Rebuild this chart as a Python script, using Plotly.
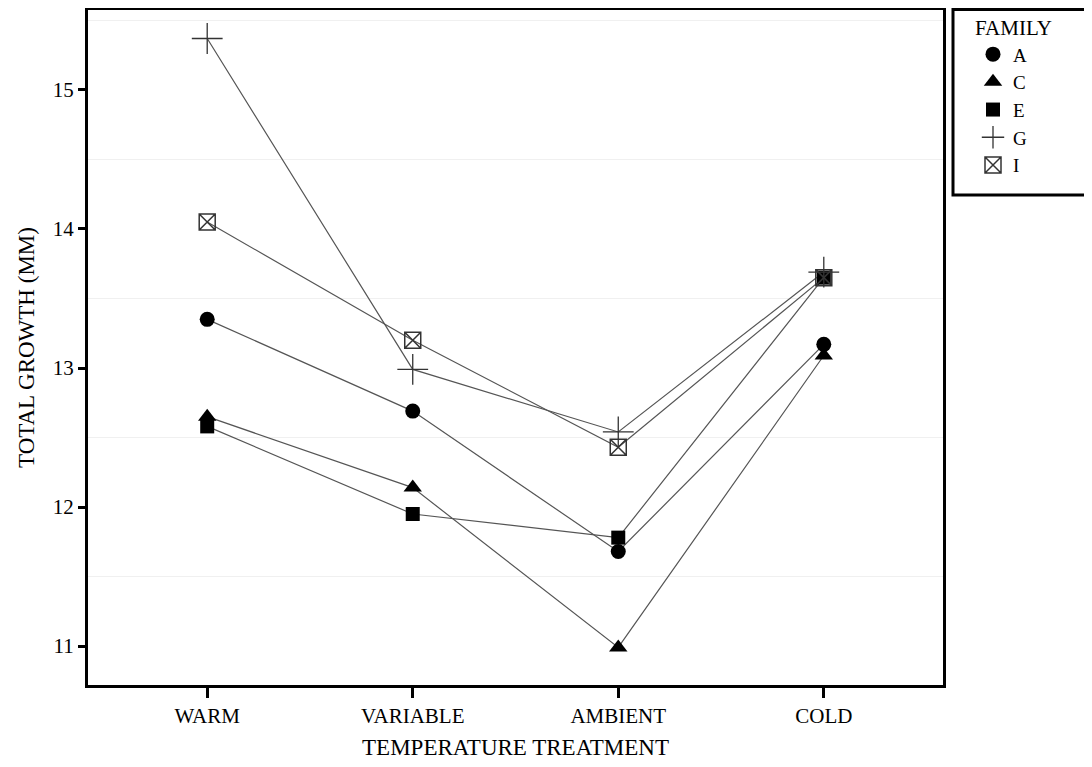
import plotly.graph_objects as go

treatments = ["WARM", "VARIABLE", "AMBIENT", "COLD"]
families = ["A", "C", "E", "G", "I"]
growth_A = [13.35, 12.69, 11.68, 13.17]
growth_C = [12.65, 12.14, 10.99, 13.09]
growth_E = [12.58, 11.95, 11.78, 13.65]
growth_G = [15.37, 12.99, 12.54, 13.69]
growth_I = [14.05, 13.20, 12.43, 13.65]

series = {"A": growth_A, "C": growth_C, "E": growth_E, "G": growth_G, "I": growth_I}
symbols = {"A": "circle", "C": "triangle-up", "E": "square", "G": "cross-thin-open", "I": "square-x-open"}
sizes = {"A": 15, "C": 16, "E": 14, "G": 22, "I": 16}
mcolors = {"A": "black", "C": "black", "E": "black", "G": "#333333", "I": "#333333"}
mline = {"A": 0, "C": 0, "E": 0, "G": 1.3, "I": 1.5}

font = "Liberation Serif, Times New Roman, serif"
fig = go.Figure()

for f in families:
    fig.add_trace(go.Scatter(x=treatments, y=series[f], mode="lines",
                             line=dict(color="#555555", width=1.2),
                             showlegend=False, hoverinfo="skip"))
for f in families:
    fig.add_trace(go.Scatter(x=treatments, y=series[f], mode="markers", name=f,
                             marker=dict(symbol=symbols[f], size=sizes[f], color=mcolors[f],
                                         line=dict(color=mcolors[f], width=mline[f]))))

W, H = 1084, 759
L, R, T, B = 80, 149, 2, 82
pw, ph = W - L - R, H - T - B

fig.update_layout(
    width=W, height=H,
    margin=dict(l=L, r=R, t=T, b=B, autoexpand=False),
    paper_bgcolor="white", plot_bgcolor="white",
    font=dict(family=font, size=20, color="black"),
    showlegend=True,
    legend=dict(x=(965 - L) / pw, y=1 + (0 + T) / ph, xanchor="left", yanchor="top",
                title=dict(text="FAMILY", font=dict(size=21)),
                font=dict(size=19), bgcolor="rgba(0,0,0,0)",
                tracegroupgap=0, itemsizing="trace", itemwidth=30),
    xaxis=dict(range=[-0.58, 3.58], showline=True, linewidth=3, linecolor="black", mirror=True,
               ticks="outside", tickwidth=3, ticklen=10, tickcolor="black", showgrid=False,
               zeroline=False, tickfont=dict(size=21), automargin=False,
               title=dict(text="TEMPERATURE TREATMENT", font=dict(size=23), standoff=12)),
    yaxis=dict(range=[10.72, 15.575], showline=True, linewidth=3, linecolor="black", mirror=True,
               ticks="outside", tickwidth=3, ticklen=7, tickcolor="black", showgrid=False,
               zeroline=False, tick0=11, dtick=1, tickfont=dict(size=21), automargin=False,
               minor=dict(tick0=10.5, dtick=1, showgrid=True, gridcolor="#f0f0f0", gridwidth=1, ticks=""),
               title=dict(text="TOTAL GROWTH (MM)", font=dict(size=23), standoff=12)),
)

fig.add_shape(type="rect", xref="paper", yref="paper",
              x0=(945 - L) / pw, x1=(1082.5 - L) / pw,
              y0=1 - (187 - T) / ph, y1=1 - (1.5 - T) / ph,
              line=dict(color="black", width=3), fillcolor="rgba(0,0,0,0)")

fig.write_html("out.html")
